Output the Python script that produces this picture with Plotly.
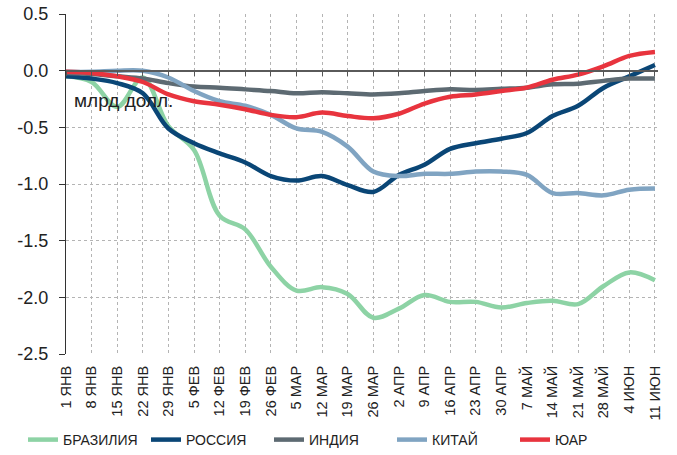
import plotly.graph_objects as go

categories = ["1 ЯНВ", "8 ЯНВ", "15 ЯНВ", "22 ЯНВ", "29 ЯНВ", "5 ФЕВ", "12 ФЕВ", "19 ФЕВ",
              "26 ФЕВ", "5 МАР", "12 МАР", "19 МАР", "26 МАР", "2 АПР", "9 АПР", "16 АПР",
              "23 АПР", "30 АПР", "7 МАЙ", "14 МАЙ", "21 МАЙ", "28 МАЙ", "4 ИЮН", "11 ИЮН"]

brazil = [-0.05, -0.10, -0.32, -0.06, -0.49, -0.70, -1.28, -1.40, -1.73, -1.94, -1.91, -1.97,
          -2.18, -2.10, -1.98, -2.04, -2.04, -2.09, -2.05, -2.03, -2.06, -1.90, -1.78, -1.85]
russia = [-0.05, -0.07, -0.11, -0.20, -0.51, -0.64, -0.73, -0.81, -0.93, -0.97, -0.93, -1.01,
          -1.07, -0.92, -0.83, -0.69, -0.64, -0.60, -0.55, -0.40, -0.31, -0.15, -0.05, 0.05]
india = [-0.02, -0.03, -0.05, -0.07, -0.11, -0.14, -0.15, -0.165, -0.18, -0.20, -0.19, -0.20,
         -0.21, -0.20, -0.18, -0.165, -0.17, -0.16, -0.15, -0.12, -0.115, -0.09, -0.07, -0.07]
china = [-0.01, -0.01, 0.0, 0.0, -0.06, -0.18, -0.27, -0.31, -0.39, -0.51, -0.54, -0.67,
         -0.89, -0.93, -0.91, -0.91, -0.89, -0.89, -0.92, -1.08, -1.08, -1.10, -1.05, -1.04]
sa = [-0.01, -0.02, -0.05, -0.10, -0.21, -0.27, -0.30, -0.34, -0.39, -0.41, -0.37, -0.40,
      -0.42, -0.38, -0.29, -0.23, -0.21, -0.18, -0.15, -0.08, -0.035, 0.04, 0.13, 0.165]

series_names = ["БРАЗИЛИЯ", "РОССИЯ", "ИНДИЯ", "КИТАЙ", "ЮАР"]
series_values = [brazil, russia, india, china, sa]
series_colors = ["#8DD3A5", "#0A4676", "#5D6A72", "#80A4C2", "#E8343E"]

y_tickvals = [0.5, 0.0, -0.5, -1.0, -1.5, -2.0, -2.5]
y_ticktext = ["0.5", "0.0", "-0.5", "-1.0", "-1.5", "-2.0", "-2.5"]

FONT = "Liberation Sans, Arial, sans-serif"

W, H = 677, 455
PL, PR, PT, PB = 66, 658, 14, 354  # plot area in pixels

fig = go.Figure()
for name, vals, col in zip(series_names, series_values, series_colors):
    fig.add_trace(go.Scatter(x=categories, y=vals, name=name, mode="lines",
                             line=dict(color=col, width=4.5, shape="spline", smoothing=1),
                             hoverinfo="skip"))

fig.update_layout(
    width=W, height=H,
    margin=dict(l=PL, r=W - PR, t=PT, b=H - PB, autoexpand=False),
    paper_bgcolor="white", plot_bgcolor="white",
    font=dict(family=FONT, color="#222222"),
    showlegend=True,
    legend=dict(orientation="h", xref="paper", yref="paper",
                x=(23 - PL) / (PR - PL), xanchor="left",
                y=(PB - 440) / (PB - PT), yanchor="middle",
                font=dict(size=14, family=FONT, color="#222222"),
                itemwidth=30, entrywidth=78, bgcolor="rgba(0,0,0,0)"),
    xaxis=dict(type="category", range=[0, 23.12], showline=False, ticks="",
               tickangle=-90, tickfont=dict(size=14.5), showgrid=True, automargin=False,
               gridcolor="#b4b4b4", griddash="dot", gridwidth=1, zeroline=False,
               ticklabelstandoff=8, ticklabeloverflow="allow"),
    xaxis2=dict(overlaying="x", anchor="free", position=2.5 / 3.0, range=[0, 23.12],
                tickvals=list(range(len(categories))), showticklabels=False,
                ticks="outside", ticklen=5, tickcolor="#555555", tickwidth=1.2,
                showline=True, linecolor="#5a5a5a", linewidth=1.5, showgrid=False,
                zeroline=False, automargin=False),
    yaxis=dict(range=[-2.5, 0.5], tickvals=y_tickvals, ticktext=y_ticktext,
               tickfont=dict(size=18), showline=True, linecolor="#333333", linewidth=1.2,
               ticks="outside", ticklen=6, tickcolor="#333333", showgrid=True,
               gridcolor="#b4b4b4", griddash="dot", gridwidth=1, zeroline=False,
               automargin=False, ticklabelstandoff=7, ticklabeloverflow="allow"),
    annotations=[dict(x=2.25, y=-0.26, xref="x", yref="y", text="млрд долл.",
                      showarrow=False, font=dict(size=19, family=FONT, color="#222222"))],
)

fig.add_trace(go.Scatter(x=[None], y=[None], xaxis="x2", showlegend=False, hoverinfo="skip"))

fig.write_html("out.html", config={"displayModeBar": False},
               post_script="document.body.style.margin='0';")
